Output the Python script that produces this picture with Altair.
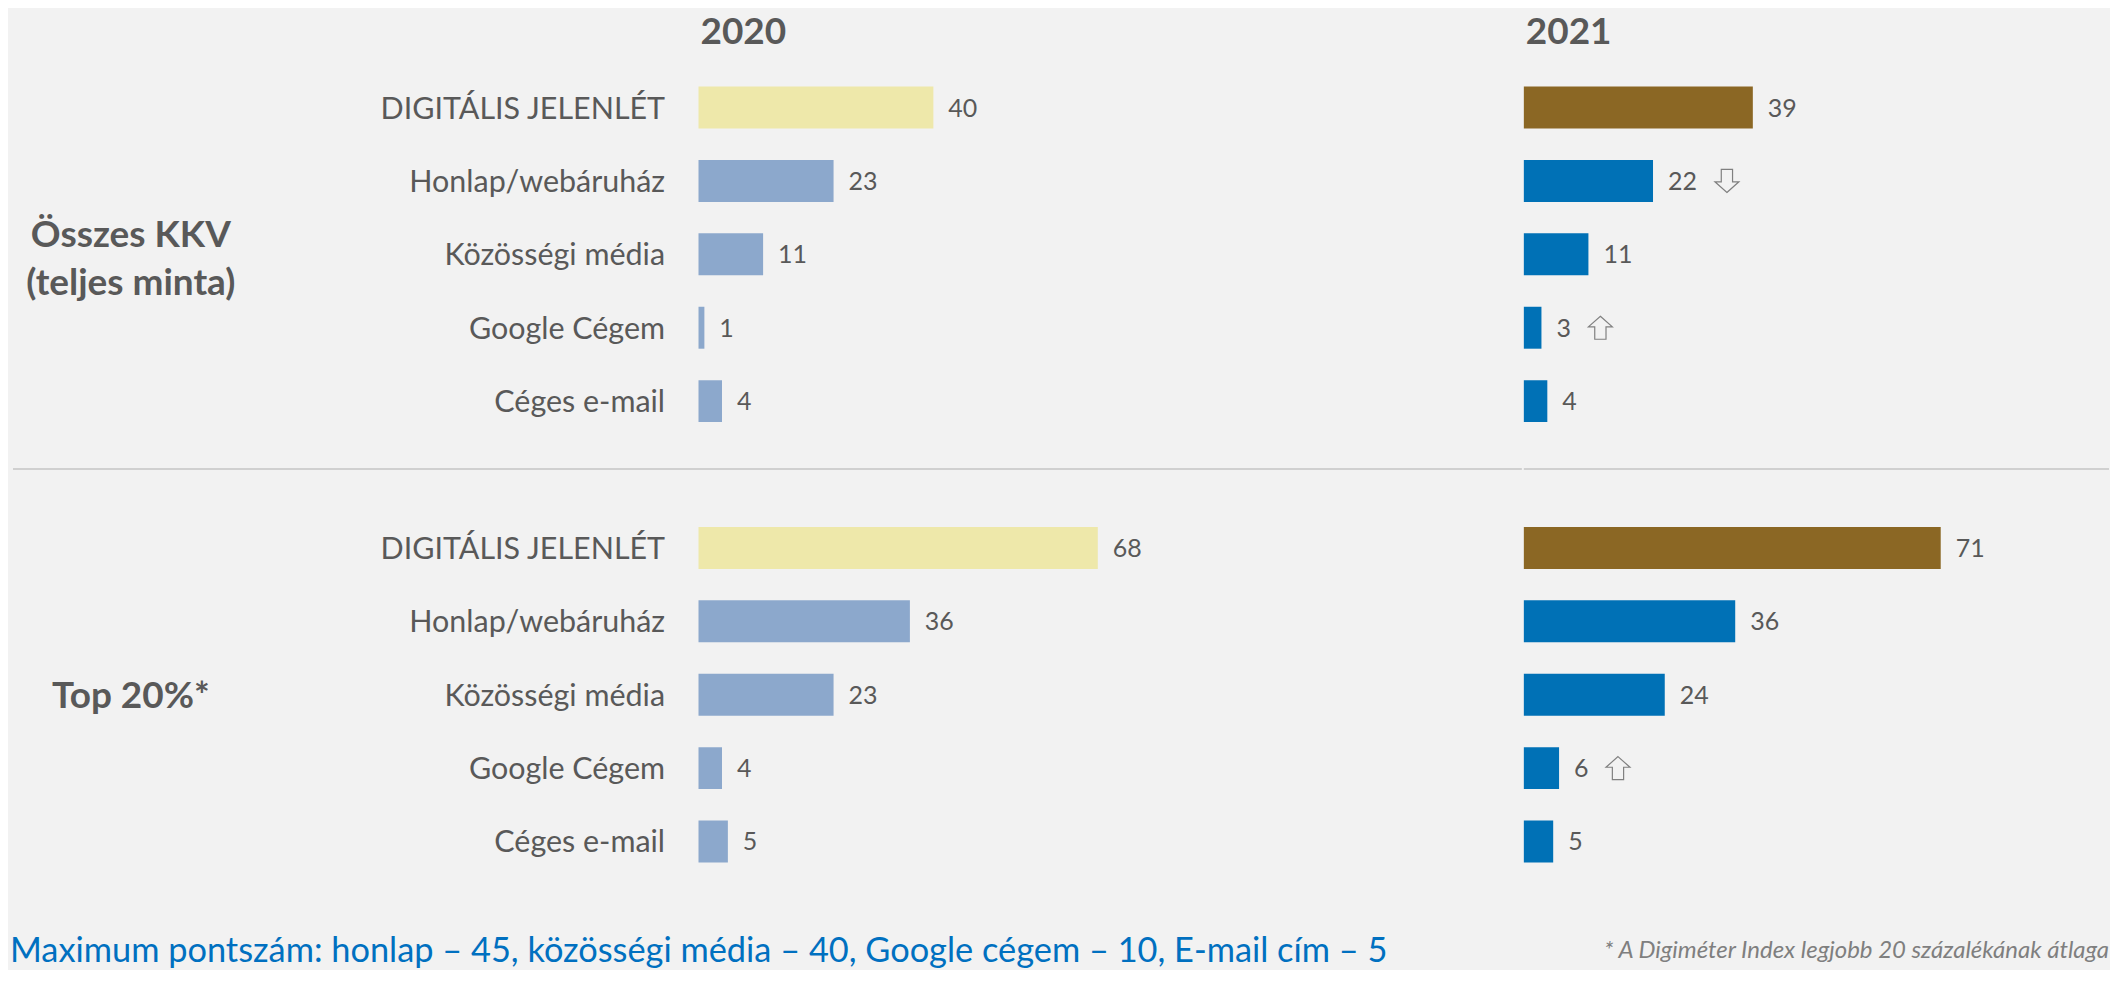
import altair as alt
import pandas as pd

# ---------------- data ----------------
categories = ["DIGITÁLIS JELENLÉT", "Honlap/webáruház", "Közösségi média", "Google Cégem", "Céges e-mail"]
group1_lines = ["Összes KKV", "(teljes minta)"]
group2_label = "Top 20%*"
years = ["2020", "2021"]
v2020_all = [40, 23, 11, 1, 4]
v2021_all = [39, 22, 11, 3, 4]
v2020_top = [68, 36, 23, 4, 5]
v2021_top = [71, 36, 24, 6, 5]
trend2021_all = ["", "down", "", "up", ""]
trend2021_top = ["", "", "", "up", ""]
footer_text = "Maximum pontszám: honlap – 45, közösségi média – 40, Google cégem – 10, E-mail cím – 5"
footnote_text = "* A Digiméter Index legjobb 20 százalékának átlaga"

# row slots (blank slots: top margin, separator, bottom margin)
slots = ["top", "a0", "a1", "a2", "a3", "a4", "sep", "b0", "b1", "b2", "b3", "b4", "bottom"]

rows = []
for prefix, v20, v21, tr in [("a", v2020_all, v2021_all, trend2021_all),
                             ("b", v2020_top, v2021_top, trend2021_top)]:
    for i, cat in enumerate(categories):
        kind = "total" if i == 0 else "part"
        rows.append(dict(slot=f"{prefix}{i}", category=cat, year="2020", value=v20[i],
                         ck=f"2020-{kind}", trend="none"))
        rows.append(dict(slot=f"{prefix}{i}", category=cat, year="2021", value=v21[i],
                         ck=f"2021-{kind}", trend=tr[i] or "none"))
df = pd.DataFrame(rows)
df20 = df[df.year == "2020"].reset_index(drop=True)
df21 = df[df.year == "2021"].reset_index(drop=True)
dfarrow = df21[df21.trend != "none"].reset_index(drop=True)

# ---------------- layout / styles ----------------
H = 962
WL, WR = 1516, 586          # left panel (labels + 2020), right panel (2021)
X20 = 691.5                 # pixel where 2020 bars start inside left panel
PPU = 5.88                  # pixels per point
FONT = "Lato"
GREY = "#595959"

sc20 = alt.Scale(domain=[-X20 / PPU, (WL - X20) / PPU], nice=False, zero=False)
sc21 = alt.Scale(domain=[0, WR / PPU], nice=False, zero=False)
ysc = alt.Scale(domain=slots, paddingInner=0.4286, paddingOuter=0.2585, align=0.1184)
csc = alt.Scale(domain=["2020-total", "2020-part", "2021-total", "2021-part"],
                range=["#EEE8AA", "#8CA8CC", "#8B6724", "#0071B6"])
Y = alt.Y("slot:N", scale=ysc, axis=None)


def arrow_path(up, off):
    # block arrow outline in symbol units (1 unit = 12 px at size 576), shifted right by `off`
    # SVG y grows downward: an up arrow has its tip at negative y
    s = -1 if up else 1
    pts = [(0, 0.96 * s), (1, 0.07 * s), (0.47, 0.07 * s), (0.47, -0.96 * s),
           (-0.47, -0.96 * s), (-0.47, 0.07 * s), (-1, 0.07 * s)]
    pts = [(x + off, y) for x, y in pts]
    return "M" + " L".join(f"{x:.3f},{y:.3f}" for x, y in pts) + " Z"


shape_dom = ["up1", "up2", "down1", "down2"]
shape_rng = [arrow_path(True, 59 / 12), arrow_path(True, 74 / 12),
             arrow_path(False, 59 / 12), arrow_path(False, 74 / 12)]


def panel_layers(data, scale, year):
    X = alt.X("value:Q", scale=scale, axis=None)
    base = alt.Chart(data).transform_calculate(zero="0")
    bars = base.mark_bar().encode(
        x=X, x2=alt.X2("zero:Q"), y=Y, color=alt.Color("ck:N", scale=csc, legend=None))
    vals = base.mark_text(
        align="left", baseline="middle", dx=15, dy=1, font=FONT, fontSize=25, color=GREY
    ).encode(x=X, y=Y, text="value:Q")
    title = alt.Chart(pd.DataFrame({"year": [year]})).transform_calculate(zero="0").mark_text(
        align="left", baseline="middle", dx=2, font=FONT, fontSize=37, fontWeight="bold", color=GREY
    ).encode(x=alt.X("zero:Q", scale=scale, axis=None), y=alt.value(24), text="year:N")
    return [bars, vals, title]


# ---------- left panel ----------
cats = alt.Chart(df20).transform_calculate(zero="0").mark_text(
    align="right", baseline="middle", dx=-33.5, dy=2, font=FONT, fontSize=30.5, color=GREY
).encode(x=alt.X("zero:Q", scale=sc20, axis=None), y=Y, text="category:N")

g1a = alt.Chart(pd.DataFrame({"slot": ["a2"], "label": [group1_lines[0]]})).mark_text(
    align="center", baseline="middle", dy=-18, font=FONT, fontSize=37, fontWeight="bold", color=GREY
).encode(x=alt.value(123), y=Y, text="label:N")
g1b = alt.Chart(pd.DataFrame({"slot": ["a2"], "label": [group1_lines[1]]})).mark_text(
    align="center", baseline="middle", dy=30, font=FONT, fontSize=37, fontWeight="bold", color=GREY
).encode(x=alt.value(123), y=Y, text="label:N")
g2 = alt.Chart(pd.DataFrame({"slot": ["b2"], "label": [group2_label]})).mark_text(
    align="center", baseline="middle", dy=2, font=FONT, fontSize=37, fontWeight="bold", color=GREY
).encode(x=alt.value(123), y=Y, text="label:N")

sep_l = alt.Chart(pd.DataFrame({"s": ["sep"]})).mark_rule(color="#D0D0D0", strokeWidth=2).encode(
    x=alt.value(5), x2=alt.value(WL), y=alt.value(461))

footer = alt.Chart(pd.DataFrame({"t": [footer_text]})).mark_text(
    align="left", baseline="middle", font=FONT, fontSize=34.4, color="#0070C0"
).encode(x=alt.value(2), y=alt.value(945), text="t:N")

left = alt.layer(*panel_layers(df20, sc20, "2020"), cats, g1a, g1b, g2, sep_l, footer).properties(
    width=WL, height=H)

# ---------- right panel ----------
arrows = alt.Chart(dfarrow).transform_calculate(
    key="datum.trend + (datum.value >= 10 ? '2' : '1')"
).mark_point(
    filled=True, fill="#F2F2F2", stroke="#808080", strokeWidth=1.2, size=576, opacity=1
).encode(
    x=alt.X("value:Q", scale=sc21, axis=None), y=Y,
    shape=alt.Shape("key:N", scale=alt.Scale(domain=shape_dom, range=shape_rng), legend=None))

sep_r = alt.Chart(pd.DataFrame({"s": ["sep"]})).mark_rule(color="#D0D0D0", strokeWidth=2).encode(
    x=alt.value(0), x2=alt.value(WR), y=alt.value(461))

footnote = alt.Chart(pd.DataFrame({"t": [footnote_text]})).mark_text(
    align="right", baseline="middle", font=FONT, fontSize=24, fontStyle="italic", color="#7F7F7F"
).encode(x=alt.value(WR), y=alt.value(944), text="t:N")

right = alt.layer(*panel_layers(df21, sc21, "2021"), arrows, sep_r, footnote).properties(
    width=WR, height=H)

chart = alt.hconcat(left, right, spacing=0).properties(
    background="#F2F2F2", padding=0
).configure_view(stroke=None)

chart.save("out.html", embed_options={"renderer": "svg", "actions": False})
